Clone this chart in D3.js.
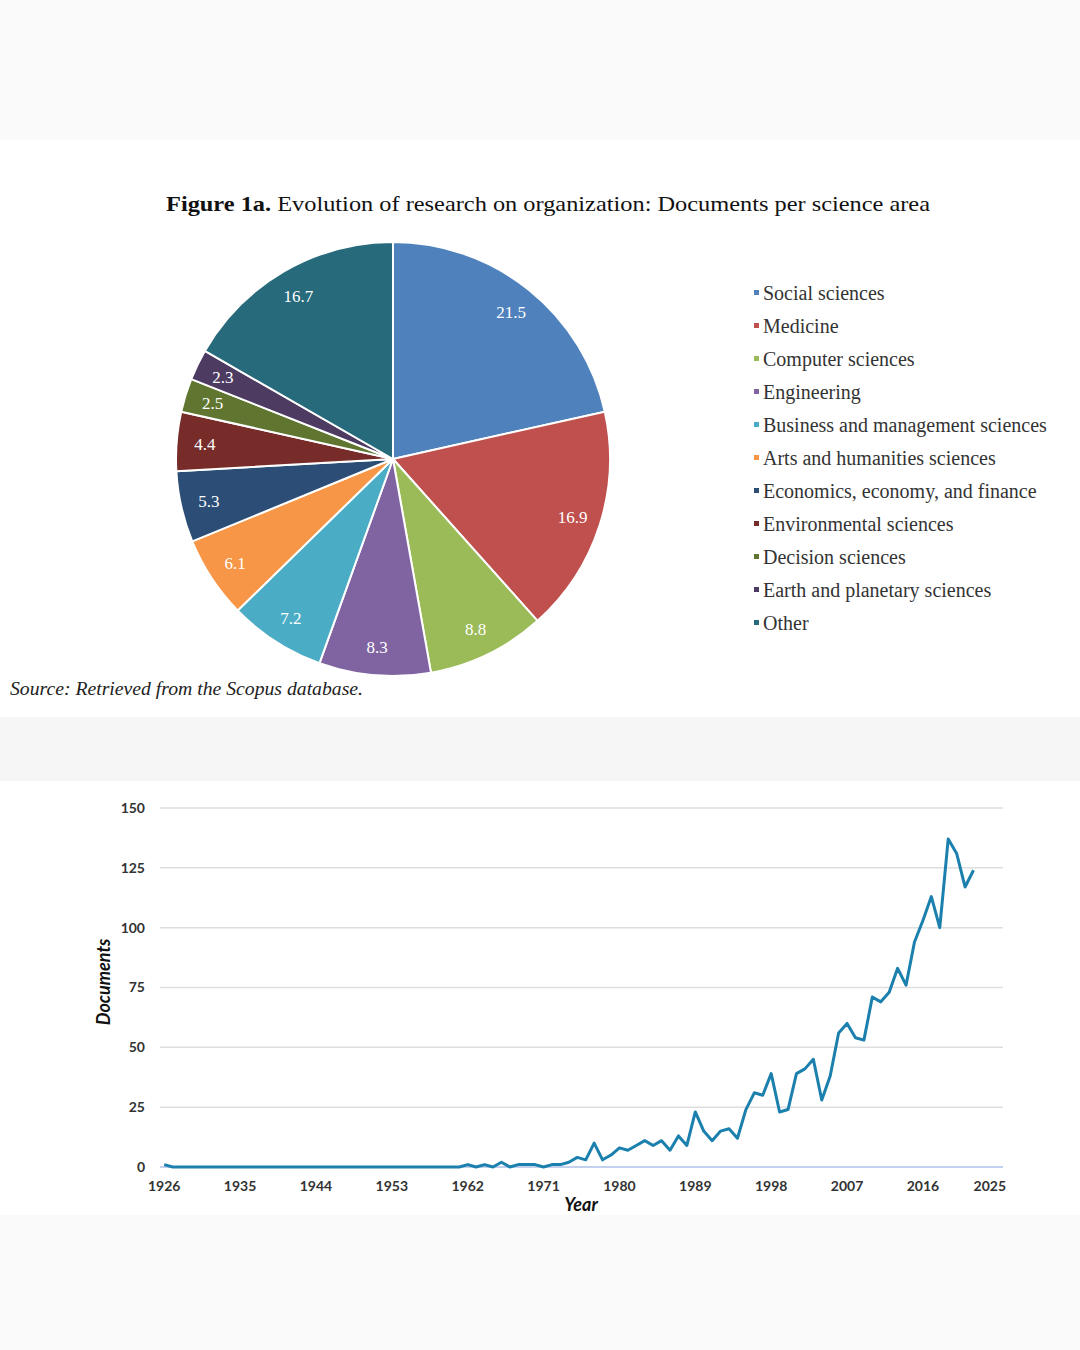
<!DOCTYPE html>
<html>
<head>
<meta charset="utf-8">
<script src="https://cdn.jsdelivr.net/npm/d3@7"></script>
<style>
  body { margin: 0; background: #fafafa; }
</style>
</head>
<body>
<div class="chart"></div>
<script>
const width = 1080;
const height = 1350;

// pie data (% of documents per science area)
const areas = ["Social sciences", "Medicine", "Computer sciences", "Engineering",
    "Business and management sciences", "Arts and humanities sciences",
    "Economics, economy, and finance", "Environmental sciences",
    "Decision sciences", "Earth and planetary sciences", "Other"];
const shares = [21.5, 16.9, 8.8, 8.3, 7.2, 6.1, 5.3, 4.4, 2.5, 2.3, 16.7];
const areaColors = ["#4f81bd", "#c0504d", "#9bbb59", "#8064a2", "#4bacc6", "#f79646",
    "#2c4d75", "#772c2a", "#5f7530", "#4d3b62", "#276a7c"];

// line data: documents per year, 1926-2022
const docs = [
    1, 0, 0, 0, 0, 0, 0, 0, 0, 0,
    0, 0, 0, 0, 0, 0, 0, 0, 0, 0,
    0, 0, 0, 0, 0, 0, 0, 0, 0, 0,
    0, 0, 0, 0, 0, 0, 1, 0, 1, 0,
    2, 0, 1, 1, 1, 0, 1, 1, 2, 4,
    3, 10, 3, 5, 8, 7, 9, 11, 9, 11,
    7, 13, 9, 23, 15, 11, 15, 16, 12, 24,
    31, 30, 39, 23, 24, 39, 41, 45, 28, 38,
    56, 60, 54, 53, 71, 69, 73, 83, 76, 94,
    103, 113, 100, 137, 131, 117, 124
];
const firstYear = 1926;
const lastYear = 2025;
const yTicks = [0, 25, 50, 75, 100, 125, 150];

const svg = d3.select(".chart")
    .append("svg")
        .attr("width", width)
        .attr("height", height)
        .style("display", "block");

// page panels
svg.append("rect").attr("x", 0).attr("y", 0).attr("width", width).attr("height", height).attr("fill", "#fafafa");
svg.append("rect").attr("x", 0).attr("y", 140).attr("width", width).attr("height", 577).attr("fill", "#ffffff");
svg.append("rect").attr("x", 0).attr("y", 717).attr("width", width).attr("height", 64).attr("fill", "#f6f6f6");
svg.append("rect").attr("x", 0).attr("y", 781).attr("width", width).attr("height", 434).attr("fill", "#ffffff");

// ---------- pie ----------
const serif = "'Liberation Serif', 'DejaVu Serif', serif";

const title = svg.append("text")
    .attr("x", 166)
    .attr("y", 211)
    .attr("font-family", serif)
    .attr("font-size", 22)
    .attr("textLength", 764)
    .attr("lengthAdjust", "spacingAndGlyphs")
    .attr("fill", "#111");
title.append("tspan").attr("font-weight", "bold").text("Figure 1a.");
title.append("tspan").text(" Evolution of research on organization: Documents per science area");

const radius = 217;
const pieG = svg.append("g")
    .attr("transform", "translate(393,459)");

const pie = d3.pie()
    .sort(null)
    .value(d => d);

const arc = d3.arc()
    .innerRadius(0)
    .outerRadius(radius);

const labelArc = d3.arc()
    .innerRadius(radius * 0.87)
    .outerRadius(radius * 0.87);

const slices = pie(shares);

pieG.selectAll("path")
    .data(slices)
    .join("path")
        .attr("d", arc)
        .attr("fill", (d, i) => areaColors[i])
        .attr("stroke", "#fff")
        .attr("stroke-width", 2)
        .attr("stroke-linejoin", "round");

pieG.selectAll("text")
    .data(slices)
    .join("text")
        .attr("transform", d => "translate(" + labelArc.centroid(d) + ")")
        .attr("dy", "0.35em")
        .attr("text-anchor", "middle")
        .attr("font-family", serif)
        .attr("font-size", 17)
        .attr("fill", "#fff")
        .text(d => d3.format(".1f")(d.data));

// legend
const legend = svg.append("g")
    .attr("transform", "translate(754,293)");

const row = legend.selectAll("g")
    .data(areas)
    .join("g")
        .attr("transform", (d, i) => "translate(0," + (i * 33) + ")");

row.append("rect")
    .attr("x", 0)
    .attr("y", -3)
    .attr("width", 5)
    .attr("height", 5)
    .attr("fill", (d, i) => areaColors[i]);

row.append("text")
    .attr("x", 9)
    .attr("dy", "0.35em")
    .attr("font-family", serif)
    .attr("font-size", 20)
    .attr("fill", "#333")
    .text(d => d);

svg.append("text")
    .attr("x", 10)
    .attr("y", 695)
    .attr("font-family", serif)
    .attr("font-style", "italic")
    .attr("font-size", 19)
    .attr("textLength", 353)
    .attr("lengthAdjust", "spacingAndGlyphs")
    .attr("fill", "#222")
    .text("Source: Retrieved from the Scopus database.");

// ---------- line ----------
const sans = "Lato, 'Open Sans', sans-serif";
const years = d3.range(firstYear, lastYear + 1);

const x = d3.scaleBand()
    .domain(years)
    .range([160, 1003]);

const y = d3.scaleLinear()
    .domain([0, 150])
    .range([1167, 808]);

const cx = yr => x(yr) + x.bandwidth() / 2;

svg.append("g")
    .selectAll("line")
    .data(yTicks.filter(t => t > 0))
    .join("line")
        .attr("x1", 160)
        .attr("x2", 1003)
        .attr("y1", d => y(d))
        .attr("y2", d => y(d))
        .attr("stroke", "#dedede")
        .attr("stroke-width", 1.5);

svg.append("line")
    .attr("x1", 160)
    .attr("x2", 1003)
    .attr("y1", y(0))
    .attr("y2", y(0))
    .attr("stroke", "#c3d1ee")
    .attr("stroke-width", 2);

svg.append("g")
    .selectAll("text")
    .data(yTicks)
    .join("text")
        .attr("x", 145)
        .attr("y", d => y(d))
        .attr("dy", "0.35em")
        .attr("text-anchor", "end")
        .attr("font-family", sans)
        .attr("font-weight", "bold")
        .attr("font-size", 14)
        .attr("fill", "#333")
        .text(d => d);

svg.append("g")
    .selectAll("text")
    .data(years.filter(yr => (yr - firstYear) % 9 === 0))
    .join("text")
        .attr("x", d => d === lastYear ? cx(d) - 9 : cx(d))
        .attr("y", 1191)
        .attr("text-anchor", "middle")
        .attr("font-family", sans)
        .attr("font-weight", "bold")
        .attr("font-size", 14)
        .attr("fill", "#333")
        .text(d => d);

const line = d3.line()
    .x((d, i) => cx(firstYear + i))
    .y(d => y(d));

svg.append("path")
    .datum(docs)
    .attr("d", line)
    .attr("fill", "none")
    .attr("stroke", "#1b80ad")
    .attr("stroke-width", 3)
    .attr("stroke-linejoin", "round");

svg.append("text")
    .attr("transform", "translate(110,982) rotate(-90)")
    .attr("text-anchor", "middle")
    .attr("font-family", sans)
    .attr("font-weight", "bold")
    .attr("font-style", "italic")
    .attr("font-size", 18)
    .attr("fill", "#111")
    .text("Documents");

svg.append("text")
    .attr("x", 581)
    .attr("y", 1211)
    .attr("text-anchor", "middle")
    .attr("font-family", sans)
    .attr("font-weight", "bold")
    .attr("font-style", "italic")
    .attr("font-size", 18)
    .attr("fill", "#111")
    .text("Year");
</script>
</body>
</html>
